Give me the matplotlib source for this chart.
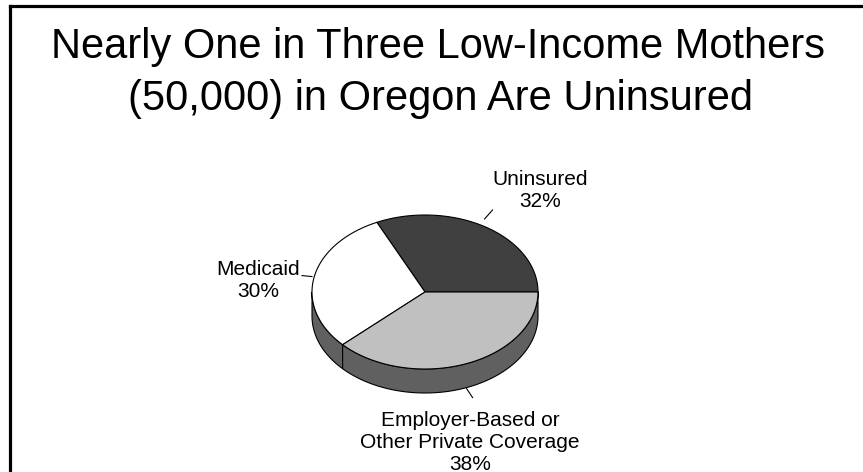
import numpy as np
import matplotlib
matplotlib.use("Agg")
import matplotlib.pyplot as plt
from matplotlib.patches import Polygon

plt.rcParams['font.family'] = ['Liberation Sans', 'DejaVu Sans']

# Data
categories = ['Uninsured', 'Medicaid', 'Employer-Based or\nOther Private Coverage']
shares = [32, 30, 38]
top_colors = ['#404040', '#ffffff', '#c0c0c0']
side_colors = ['#303030', '#606060', '#606060']
title_lines = ['Nearly One in Three Low-Income Mothers',
               '(50,000) in Oregon Are Uninsured']

W, H = 863, 472
fig = plt.figure(figsize=(W / 100, H / 100), dpi=100)
ax = fig.add_axes([0, 0, 1, 1])
ax.set_xlim(0, W)
ax.set_ylim(H, 0)
ax.axis('off')

# Frame (top and left edges)
ax.plot([9.5, W + 5], [5.5, 5.5], color='black', lw=2.3, solid_capstyle='projecting')
ax.plot([9.5, 9.5], [5.5, H + 5], color='black', lw=2.3, solid_capstyle='projecting')

# Title
ax.text(438, 58, title_lines[0], ha='center', va='baseline', fontsize=30)
ax.text(440, 110, title_lines[1], ha='center', va='baseline', fontsize=30)

# 3-D pie geometry (pixel units)
cx, cy, rx, ry, depth = 425, 292, 113, 77, 24


def ell(t_deg, dy=0.0):
    t = np.radians(t_deg)
    return cx + rx * np.cos(t), cy - ry * np.sin(t) + dy


fr = np.array(shares, dtype=float) / sum(shares)
edges = np.concatenate([[0], np.cumsum(fr) * 360.0])

# Sides (front half only: 180..360 deg)
for i in range(len(shares)):
    a0, a1 = max(edges[i], 180.0), min(edges[i + 1], 360.0)
    if a1 <= a0:
        continue
    ts = np.linspace(a0, a1, 80)
    top = [ell(t) for t in ts]
    bot = [ell(t, depth) for t in ts[::-1]]
    ax.add_patch(Polygon(top + bot, closed=True, facecolor=side_colors[i],
                         edgecolor='black', lw=0.8, joinstyle='round'))

# Tops
for i in range(len(shares)):
    ts = np.linspace(edges[i], edges[i + 1], 120)
    pts = [(cx, cy)] + [ell(t) for t in ts]
    ax.add_patch(Polygon(pts, closed=True, facecolor=top_colors[i],
                         edgecolor='black', lw=0.8, joinstyle='round'))

# Labels (baseline of the last line) with leader lines
label_pos = [(540, 207), (258, 297), (470, 470)]
for i, name in enumerate(categories):
    mid = (edges[i] + edges[i + 1]) / 2
    x0, y0 = ell(mid, depth if 180 < mid < 360 else 0)
    lx, ly = label_pos[i]
    ax.text(lx, ly, f"{name}\n{shares[i]}%", ha='center', va='baseline',
            fontsize=15, linespacing=1.2)
    if i == 0:
        ax.plot([x0 - 1, x0 + 7], [y0 - 8, y0 - 17], color='black', lw=0.8)
    elif i == 1:
        ax.plot([x0 - 12, x0 - 2], [y0 - 2, y0 - 1], color='black', lw=0.8)
    else:
        ax.plot([x0, x0 + 6], [y0 + 1, y0 + 10], color='black', lw=0.8)

fig.savefig('out.png', dpi=100)
